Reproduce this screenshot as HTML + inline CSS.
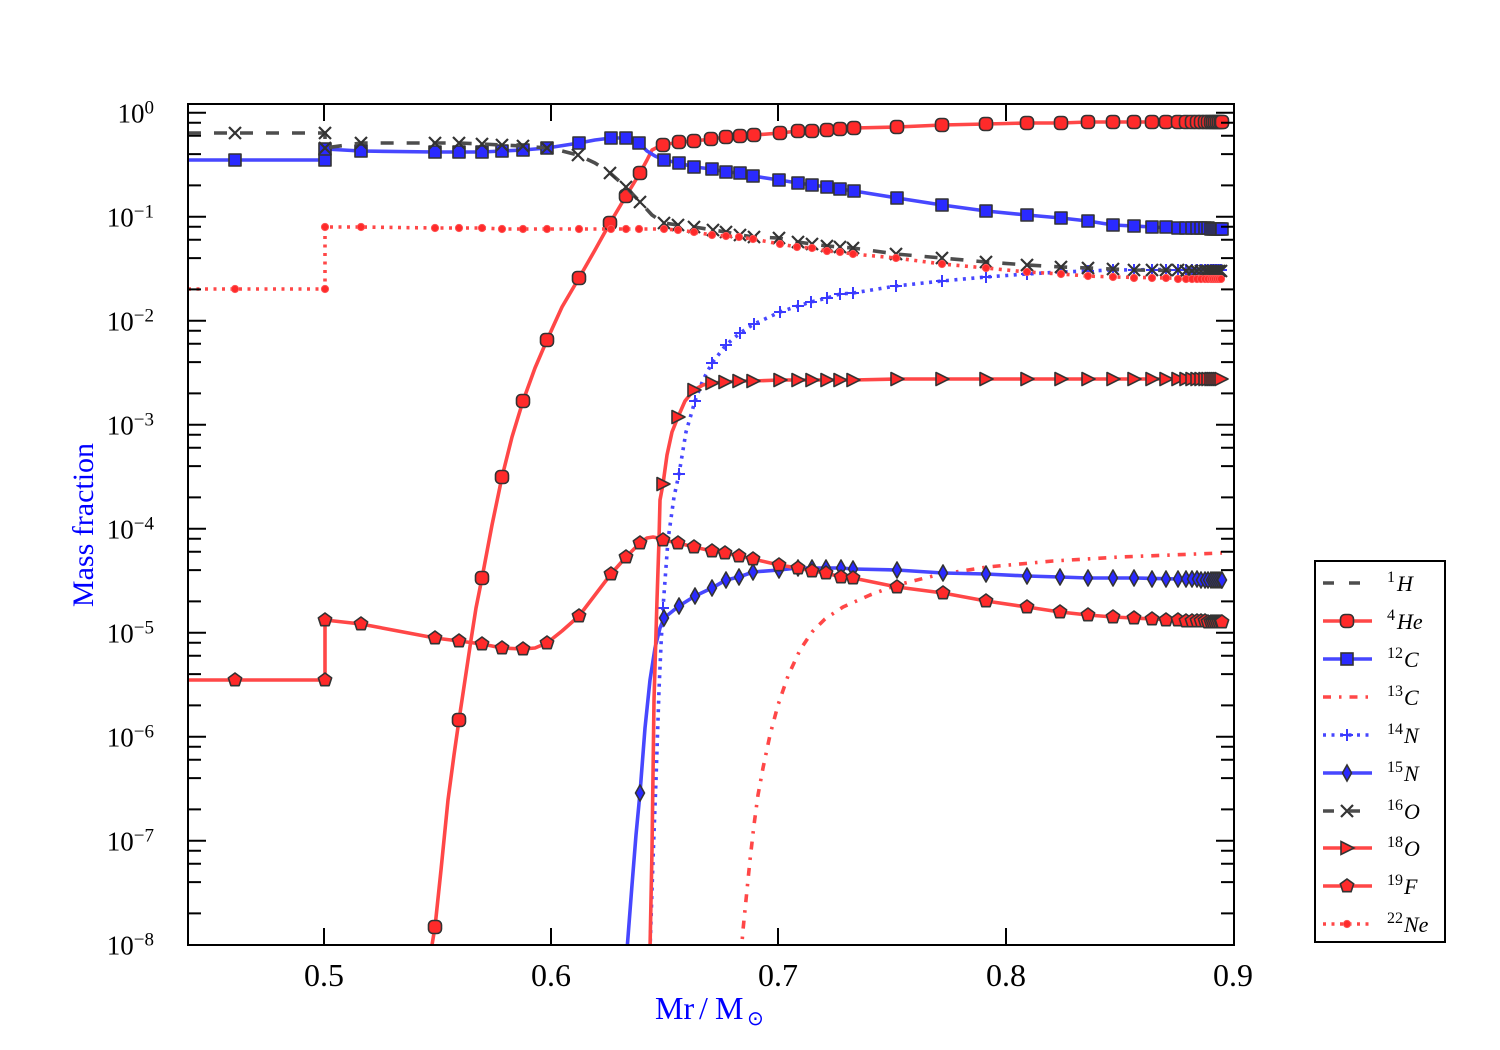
<!DOCTYPE html>
<html><head><meta charset="utf-8"><style>
html,body{margin:0;padding:0;background:#fff;}
svg{display:block;}
text{font-family:"Liberation Serif","DejaVu Serif",serif;}
</style></head><body>
<svg width="1500" height="1050" viewBox="0 0 1500 1050">
<rect x="0" y="0" width="1500" height="1050" fill="#fff"/>
<defs>
<clipPath id="cp"><rect x="188" y="104" width="1046" height="841"/></clipPath>
<rect id="mHe" x="-6.5" y="-6.5" width="13" height="13" rx="4.5" fill="#ff2a2a" stroke="#333" stroke-width="1.6"/>
<rect id="mC" x="-6" y="-6" width="12" height="12" fill="#2a2aff" stroke="#333" stroke-width="1.6"/>
<path id="mN14" d="M-6,0H6M0,-6V6" stroke="#3a3aff" stroke-width="2" fill="none"/>
<path id="mN15" d="M0,-8L4.5,0L0,8L-4.5,0Z" fill="#2a2aff" stroke="#333" stroke-width="1.6"/>
<path id="mO16" d="M-6,-6L6,6M-6,6L6,-6" stroke="#333" stroke-width="2.2" fill="none"/>
<path id="mO18" d="M-6,-6.5L7,0L-6,6.5Z" fill="#ff2a2a" stroke="#333" stroke-width="1.6"/>
<path id="mF" d="M0,-7L6.66,-2.16L4.11,5.66L-4.11,5.66L-6.66,-2.16Z" fill="#ff2a2a" stroke="#333" stroke-width="1.6"/>
<circle id="mNe" r="3.6" fill="#ff2a2a" stroke="#ff5555" stroke-width="1"/>
</defs>

<g clip-path="url(#cp)" fill="none" stroke-linejoin="round">
<!-- 4He -->
<polyline stroke="#ff4747" stroke-width="3.6" points="432,945 435,927 441,870 448,800 454,755 459,720 465,680 471,640 476,608 482,578 492,525 502,477 512,437 523,401 535,368 547,340 562,307 579,278 595,250 610,223 626,196 640,173 647,160 652,150 658,147 663,145 679,142 694,141 711,139 726,137 740,136 754,135 780,133 798,131 812,131 827,130 840,129 854,128 897,127 942,125 986,124 1027,123 1061,123 1088,122 1222,122"/>
<g>
<use href="#mHe" x="435" y="927"/><use href="#mHe" x="459" y="720"/><use href="#mHe" x="482" y="578"/><use href="#mHe" x="502" y="477"/><use href="#mHe" x="523" y="401"/><use href="#mHe" x="547" y="340"/><use href="#mHe" x="579" y="278"/><use href="#mHe" x="610" y="223"/><use href="#mHe" x="626" y="196"/><use href="#mHe" x="640" y="173"/><use href="#mHe" x="663" y="145"/><use href="#mHe" x="679" y="142"/><use href="#mHe" x="694" y="141"/><use href="#mHe" x="711" y="139"/><use href="#mHe" x="726" y="137"/><use href="#mHe" x="740" y="136"/><use href="#mHe" x="754" y="135"/><use href="#mHe" x="780" y="133"/><use href="#mHe" x="798" y="131"/><use href="#mHe" x="812" y="131"/><use href="#mHe" x="827" y="130"/><use href="#mHe" x="840" y="129"/><use href="#mHe" x="854" y="128"/><use href="#mHe" x="897" y="127"/><use href="#mHe" x="942" y="125"/><use href="#mHe" x="986" y="124"/><use href="#mHe" x="1027" y="123"/><use href="#mHe" x="1061" y="123"/><use href="#mHe" x="1088" y="122"/><use href="#mHe" x="1113" y="122"/><use href="#mHe" x="1134" y="122"/><use href="#mHe" x="1152" y="122"/><use href="#mHe" x="1166" y="122"/><use href="#mHe" x="1178" y="122"/><use href="#mHe" x="1186" y="122"/><use href="#mHe" x="1192" y="122"/><use href="#mHe" x="1197" y="122"/><use href="#mHe" x="1201" y="122"/><use href="#mHe" x="1205" y="122"/><use href="#mHe" x="1208" y="122"/><use href="#mHe" x="1211" y="122"/><use href="#mHe" x="1213" y="122"/><use href="#mHe" x="1215" y="122"/><use href="#mHe" x="1217" y="122"/><use href="#mHe" x="1219" y="122"/><use href="#mHe" x="1221" y="122"/><use href="#mHe" x="1222" y="122"/>
</g>

<!-- 12C -->
<polyline stroke="#4747ff" stroke-width="3.6" points="188,160 325,160 325,149 361,151 435,152 459,152 482,152 502,151 523,150 547,148 579,143 595,140 611,138 626,138 633,139 639,143 647,151 655,156 664,160 679,163 694,167 712,169 726,172 740,173 753,176 779,180 798,183 812,185 827,187 840,189 854,191 897,198 942,205 986,211 1027,215 1061,218 1088,221 1113,225 1134,226 1170,228 1222,229"/>
<g>
<use href="#mC" x="235" y="160"/><use href="#mC" x="325" y="160"/><use href="#mC" x="325" y="149"/><use href="#mC" x="361" y="151"/><use href="#mC" x="435" y="152"/><use href="#mC" x="459" y="152"/><use href="#mC" x="482" y="152"/><use href="#mC" x="502" y="151"/><use href="#mC" x="523" y="150"/><use href="#mC" x="547" y="148"/><use href="#mC" x="579" y="143"/><use href="#mC" x="611" y="138"/><use href="#mC" x="626" y="138"/><use href="#mC" x="639" y="143"/><use href="#mC" x="664" y="160"/><use href="#mC" x="679" y="163"/><use href="#mC" x="694" y="167"/><use href="#mC" x="712" y="169"/><use href="#mC" x="726" y="172"/><use href="#mC" x="740" y="173"/><use href="#mC" x="753" y="176"/><use href="#mC" x="779" y="180"/><use href="#mC" x="798" y="183"/><use href="#mC" x="812" y="185"/><use href="#mC" x="827" y="187"/><use href="#mC" x="840" y="189"/><use href="#mC" x="854" y="191"/><use href="#mC" x="897" y="198"/><use href="#mC" x="942" y="205"/><use href="#mC" x="986" y="211"/><use href="#mC" x="1027" y="215"/><use href="#mC" x="1061" y="218"/><use href="#mC" x="1088" y="221"/><use href="#mC" x="1113" y="225"/><use href="#mC" x="1134" y="226"/><use href="#mC" x="1152" y="227"/><use href="#mC" x="1166" y="227"/><use href="#mC" x="1178" y="228"/><use href="#mC" x="1186" y="228"/><use href="#mC" x="1192" y="228"/><use href="#mC" x="1197" y="228"/><use href="#mC" x="1201" y="228"/><use href="#mC" x="1205" y="228"/><use href="#mC" x="1208" y="228"/><use href="#mC" x="1211" y="229"/><use href="#mC" x="1213" y="229"/><use href="#mC" x="1215" y="229"/><use href="#mC" x="1217" y="229"/><use href="#mC" x="1219" y="229"/><use href="#mC" x="1221" y="229"/><use href="#mC" x="1222" y="229"/>
</g>

<!-- 13C -->
<polyline stroke="#ff4747" stroke-width="3.6" stroke-dasharray="8 8 2.5 8" points="741,955 743,930 746,900 750,860 754,825 758,795 763,768 770,735 778,705 788,676 800,650 812,632 825,619 843,607 870,595 897,585 937,575 987,567 1053,561 1120,557 1222,553"/>

<!-- 14N -->
<polyline stroke="#4747ff" stroke-width="3.6" stroke-dasharray="3 5.5" points="650,950 653,860 656,780 659,690 661,645 663,608 668,540 674,497 679,474 686,432 695,401 703,380 712,363 726,345 740,333 754,324 780,312 798,306 811,302 827,298 840,294 853,293 896,286 942,281 986,277 1027,274 1061,272 1088,271 1113,270 1222,269"/>
<g>
<use href="#mN14" x="663" y="608"/><use href="#mN14" x="679" y="474"/><use href="#mN14" x="695" y="401"/><use href="#mN14" x="712" y="363"/><use href="#mN14" x="726" y="345"/><use href="#mN14" x="740" y="333"/><use href="#mN14" x="754" y="324"/><use href="#mN14" x="780" y="312"/><use href="#mN14" x="798" y="306"/><use href="#mN14" x="811" y="302"/><use href="#mN14" x="827" y="298"/><use href="#mN14" x="840" y="294"/><use href="#mN14" x="853" y="293"/><use href="#mN14" x="896" y="286"/><use href="#mN14" x="942" y="281"/><use href="#mN14" x="986" y="277"/><use href="#mN14" x="1027" y="274"/><use href="#mN14" x="1061" y="272"/><use href="#mN14" x="1088" y="271"/><use href="#mN14" x="1113" y="270"/><use href="#mN14" x="1134" y="270"/><use href="#mN14" x="1152" y="270"/><use href="#mN14" x="1166" y="270"/><use href="#mN14" x="1178" y="270"/><use href="#mN14" x="1186" y="270"/><use href="#mN14" x="1192" y="270"/><use href="#mN14" x="1197" y="270"/><use href="#mN14" x="1201" y="270"/><use href="#mN14" x="1205" y="270"/><use href="#mN14" x="1208" y="270"/><use href="#mN14" x="1211" y="270"/><use href="#mN14" x="1213" y="270"/><use href="#mN14" x="1215" y="270"/><use href="#mN14" x="1217" y="270"/><use href="#mN14" x="1219" y="270"/><use href="#mN14" x="1221" y="270"/>
</g>

<!-- 15N -->
<polyline stroke="#4747ff" stroke-width="3.6" points="627,950 632,885 636,835 640,793 645,728 650,680 655,648 660,628 664,618 679,606 695,596 712,588 726,580 739,577 753,572 779,570 798,568 812,568 826,568 841,568 853,569 897,570 943,573 986,574 1027,576 1060,577 1088,578 1134,578 1222,580"/>
<g>
<use href="#mN15" x="640" y="793"/><use href="#mN15" x="664" y="618"/><use href="#mN15" x="679" y="606"/><use href="#mN15" x="695" y="596"/><use href="#mN15" x="712" y="588"/><use href="#mN15" x="726" y="580"/><use href="#mN15" x="739" y="577"/><use href="#mN15" x="753" y="572"/><use href="#mN15" x="779" y="570"/><use href="#mN15" x="798" y="568"/><use href="#mN15" x="812" y="568"/><use href="#mN15" x="826" y="568"/><use href="#mN15" x="841" y="568"/><use href="#mN15" x="853" y="569"/><use href="#mN15" x="897" y="570"/><use href="#mN15" x="943" y="573"/><use href="#mN15" x="986" y="574"/><use href="#mN15" x="1027" y="576"/><use href="#mN15" x="1060" y="577"/><use href="#mN15" x="1088" y="578"/><use href="#mN15" x="1113" y="578"/><use href="#mN15" x="1134" y="578"/><use href="#mN15" x="1152" y="579"/><use href="#mN15" x="1166" y="579"/><use href="#mN15" x="1178" y="579"/><use href="#mN15" x="1186" y="579"/><use href="#mN15" x="1192" y="579"/><use href="#mN15" x="1197" y="579"/><use href="#mN15" x="1201" y="580"/><use href="#mN15" x="1205" y="580"/><use href="#mN15" x="1208" y="580"/><use href="#mN15" x="1211" y="580"/><use href="#mN15" x="1213" y="580"/><use href="#mN15" x="1215" y="580"/><use href="#mN15" x="1217" y="580"/><use href="#mN15" x="1219" y="580"/><use href="#mN15" x="1221" y="580"/><use href="#mN15" x="1222" y="580"/>
</g>

<!-- 16O -->
<polyline stroke="#4d4d4d" stroke-width="3.6" stroke-dasharray="13 13" points="188,133 325,133 325,148 361,143 435,143 459,143 482,144 502,145 523,146 547,148 562,151 578,155 595,163 610,173 626,187 640,202 652,215 664,223 678,225 694,227 713,230 726,232 740,235 754,237 779,238 798,242 812,244 827,246 840,247 853,248 896,254 942,258 986,262 1027,265 1061,267 1088,268 1134,270 1222,271"/>
<g>
<use href="#mO16" x="235" y="133"/><use href="#mO16" x="325" y="133"/><use href="#mO16" x="325" y="148"/><use href="#mO16" x="361" y="143"/><use href="#mO16" x="435" y="143"/><use href="#mO16" x="459" y="143"/><use href="#mO16" x="482" y="144"/><use href="#mO16" x="502" y="145"/><use href="#mO16" x="523" y="146"/><use href="#mO16" x="547" y="148"/><use href="#mO16" x="578" y="155"/><use href="#mO16" x="610" y="173"/><use href="#mO16" x="626" y="187"/><use href="#mO16" x="640" y="202"/><use href="#mO16" x="664" y="223"/><use href="#mO16" x="678" y="225"/><use href="#mO16" x="694" y="227"/><use href="#mO16" x="713" y="230"/><use href="#mO16" x="726" y="232"/><use href="#mO16" x="740" y="235"/><use href="#mO16" x="754" y="237"/><use href="#mO16" x="779" y="238"/><use href="#mO16" x="798" y="242"/><use href="#mO16" x="812" y="244"/><use href="#mO16" x="827" y="246"/><use href="#mO16" x="840" y="247"/><use href="#mO16" x="853" y="248"/><use href="#mO16" x="896" y="254"/><use href="#mO16" x="942" y="258"/><use href="#mO16" x="986" y="262"/><use href="#mO16" x="1027" y="265"/><use href="#mO16" x="1061" y="267"/><use href="#mO16" x="1088" y="268"/><use href="#mO16" x="1113" y="269"/><use href="#mO16" x="1134" y="270"/><use href="#mO16" x="1152" y="270"/><use href="#mO16" x="1166" y="270"/><use href="#mO16" x="1178" y="270"/><use href="#mO16" x="1186" y="271"/><use href="#mO16" x="1192" y="271"/><use href="#mO16" x="1197" y="271"/><use href="#mO16" x="1201" y="271"/><use href="#mO16" x="1205" y="271"/><use href="#mO16" x="1208" y="271"/><use href="#mO16" x="1211" y="271"/><use href="#mO16" x="1213" y="271"/><use href="#mO16" x="1215" y="271"/><use href="#mO16" x="1217" y="271"/><use href="#mO16" x="1219" y="271"/><use href="#mO16" x="1221" y="271"/>
</g>

<!-- 18O -->
<polyline stroke="#ff4747" stroke-width="3.6" points="650,950 652,850 654,700 657,600 659,540 660,500 663,484 667,455 672,432 678,417 685,401 694,390 703,385 712,383 725,382 739,381 753,381 780,380 853,380 897,379 1222,379"/>
<g>
<use href="#mO18" x="663" y="484"/><use href="#mO18" x="678" y="417"/><use href="#mO18" x="694" y="390"/><use href="#mO18" x="712" y="383"/><use href="#mO18" x="725" y="382"/><use href="#mO18" x="739" y="381"/><use href="#mO18" x="753" y="381"/><use href="#mO18" x="780" y="380"/><use href="#mO18" x="798" y="380"/><use href="#mO18" x="812" y="380"/><use href="#mO18" x="827" y="380"/><use href="#mO18" x="840" y="380"/><use href="#mO18" x="853" y="380"/><use href="#mO18" x="897" y="379"/><use href="#mO18" x="942" y="379"/><use href="#mO18" x="986" y="379"/><use href="#mO18" x="1027" y="379"/><use href="#mO18" x="1061" y="379"/><use href="#mO18" x="1088" y="379"/><use href="#mO18" x="1113" y="379"/><use href="#mO18" x="1134" y="379"/><use href="#mO18" x="1152" y="379"/><use href="#mO18" x="1166" y="379"/><use href="#mO18" x="1178" y="379"/><use href="#mO18" x="1186" y="379"/><use href="#mO18" x="1192" y="379"/><use href="#mO18" x="1197" y="379"/><use href="#mO18" x="1201" y="379"/><use href="#mO18" x="1205" y="379"/><use href="#mO18" x="1208" y="379"/><use href="#mO18" x="1211" y="379"/><use href="#mO18" x="1213" y="379"/><use href="#mO18" x="1215" y="379"/><use href="#mO18" x="1217" y="379"/><use href="#mO18" x="1219" y="379"/><use href="#mO18" x="1221" y="379"/>
</g>

<!-- 19F -->
<polyline stroke="#ff4747" stroke-width="3.6" points="188,680 325,680 325,620 361,624 435,638 459,641 482,644 502,648 523,649 535,648 547,643 562,631 579,616 595,595 611,574 626,557 640,543 647,538 653,537 658,538 663,540 678,543 694,547 712,551 725,553 739,556 753,559 779,565 798,568 812,571 826,573 841,577 853,578 897,587 943,593 986,601 1027,607 1060,612 1088,615 1113,617 1134,618 1152,619 1222,622"/>
<g>
<use href="#mF" x="235" y="680"/><use href="#mF" x="325" y="680"/><use href="#mF" x="325" y="620"/><use href="#mF" x="361" y="624"/><use href="#mF" x="435" y="638"/><use href="#mF" x="459" y="641"/><use href="#mF" x="482" y="644"/><use href="#mF" x="502" y="648"/><use href="#mF" x="523" y="649"/><use href="#mF" x="547" y="643"/><use href="#mF" x="579" y="616"/><use href="#mF" x="611" y="574"/><use href="#mF" x="626" y="557"/><use href="#mF" x="640" y="543"/><use href="#mF" x="663" y="540"/><use href="#mF" x="678" y="543"/><use href="#mF" x="694" y="547"/><use href="#mF" x="712" y="551"/><use href="#mF" x="725" y="553"/><use href="#mF" x="739" y="556"/><use href="#mF" x="753" y="559"/><use href="#mF" x="779" y="565"/><use href="#mF" x="798" y="568"/><use href="#mF" x="812" y="571"/><use href="#mF" x="826" y="573"/><use href="#mF" x="841" y="577"/><use href="#mF" x="853" y="578"/><use href="#mF" x="897" y="587"/><use href="#mF" x="943" y="593"/><use href="#mF" x="986" y="601"/><use href="#mF" x="1027" y="607"/><use href="#mF" x="1060" y="612"/><use href="#mF" x="1088" y="615"/><use href="#mF" x="1113" y="617"/><use href="#mF" x="1134" y="618"/><use href="#mF" x="1152" y="619"/><use href="#mF" x="1166" y="620"/><use href="#mF" x="1178" y="620"/><use href="#mF" x="1186" y="621"/><use href="#mF" x="1192" y="621"/><use href="#mF" x="1197" y="621"/><use href="#mF" x="1201" y="621"/><use href="#mF" x="1205" y="621"/><use href="#mF" x="1208" y="622"/><use href="#mF" x="1211" y="622"/><use href="#mF" x="1213" y="622"/><use href="#mF" x="1215" y="622"/><use href="#mF" x="1217" y="622"/><use href="#mF" x="1219" y="622"/><use href="#mF" x="1221" y="622"/><use href="#mF" x="1222" y="622"/>
</g>

<!-- 22Ne -->
<polyline stroke="#ff4747" stroke-width="3.6" stroke-dasharray="3 5.5" points="188,289 325,289 325,227 361,227 435,228 459,228 482,228 502,229 523,229 547,229 579,229 611,229 626,229 639,229 664,229 678,230 694,232 712,235 726,236 739,237 753,239 780,244 797,247 812,248 827,251 840,252 853,254 896,258 942,264 986,268 1027,272 1061,274 1088,276 1113,277 1222,279"/>
<g>
<use href="#mNe" x="235" y="289"/><use href="#mNe" x="325" y="289"/><use href="#mNe" x="325" y="227"/><use href="#mNe" x="361" y="227"/><use href="#mNe" x="435" y="228"/><use href="#mNe" x="459" y="228"/><use href="#mNe" x="482" y="228"/><use href="#mNe" x="502" y="229"/><use href="#mNe" x="523" y="229"/><use href="#mNe" x="547" y="229"/><use href="#mNe" x="579" y="229"/><use href="#mNe" x="611" y="229"/><use href="#mNe" x="626" y="229"/><use href="#mNe" x="639" y="229"/><use href="#mNe" x="664" y="229"/><use href="#mNe" x="678" y="230"/><use href="#mNe" x="694" y="232"/><use href="#mNe" x="712" y="235"/><use href="#mNe" x="726" y="236"/><use href="#mNe" x="739" y="237"/><use href="#mNe" x="753" y="239"/><use href="#mNe" x="780" y="244"/><use href="#mNe" x="797" y="247"/><use href="#mNe" x="812" y="248"/><use href="#mNe" x="827" y="251"/><use href="#mNe" x="840" y="252"/><use href="#mNe" x="853" y="254"/><use href="#mNe" x="896" y="258"/><use href="#mNe" x="942" y="264"/><use href="#mNe" x="986" y="268"/><use href="#mNe" x="1027" y="272"/><use href="#mNe" x="1061" y="274"/><use href="#mNe" x="1088" y="276"/><use href="#mNe" x="1113" y="277"/><use href="#mNe" x="1134" y="278"/><use href="#mNe" x="1152" y="278"/><use href="#mNe" x="1166" y="278"/><use href="#mNe" x="1178" y="279"/><use href="#mNe" x="1186" y="279"/><use href="#mNe" x="1192" y="279"/><use href="#mNe" x="1197" y="279"/><use href="#mNe" x="1201" y="279"/><use href="#mNe" x="1205" y="279"/><use href="#mNe" x="1208" y="279"/><use href="#mNe" x="1211" y="279"/><use href="#mNe" x="1213" y="279"/><use href="#mNe" x="1215" y="279"/><use href="#mNe" x="1217" y="279"/><use href="#mNe" x="1219" y="279"/><use href="#mNe" x="1221" y="279"/>
</g>
</g>

<!-- axes frame and ticks -->
<rect x="188" y="104" width="1046" height="841" fill="none" stroke="#000" stroke-width="2"/>
<path stroke="#000" stroke-width="2" fill="none" d="
M188,112.7h18 M188,216.7h18 M188,320.7h18 M188,424.7h18 M188,528.7h18 M188,632.7h18 M188,736.7h18 M188,840.7h18
M1234,112.7h-18 M1234,216.7h-18 M1234,320.7h-18 M1234,424.7h-18 M1234,528.7h-18 M1234,632.7h-18 M1234,736.7h-18 M1234,840.7h-18
M188,122.8h13 M188,135.8h13 M188,154.1h13 M188,185.4h13
M188,226.8h13 M188,239.8h13 M188,258.1h13 M188,289.4h13
M188,330.8h13 M188,343.8h13 M188,362.1h13 M188,393.4h13
M188,434.8h13 M188,447.8h13 M188,466.1h13 M188,497.4h13
M188,538.8h13 M188,551.8h13 M188,570.1h13 M188,601.4h13
M188,642.8h13 M188,655.8h13 M188,674.1h13 M188,705.4h13
M188,746.8h13 M188,759.8h13 M188,778.1h13 M188,809.4h13
M188,850.8h13 M188,863.8h13 M188,882.1h13 M188,913.4h13
M1234,122.8h-13 M1234,135.8h-13 M1234,154.1h-13 M1234,185.4h-13
M1234,226.8h-13 M1234,239.8h-13 M1234,258.1h-13 M1234,289.4h-13
M1234,330.8h-13 M1234,343.8h-13 M1234,362.1h-13 M1234,393.4h-13
M1234,434.8h-13 M1234,447.8h-13 M1234,466.1h-13 M1234,497.4h-13
M1234,538.8h-13 M1234,551.8h-13 M1234,570.1h-13 M1234,601.4h-13
M1234,642.8h-13 M1234,655.8h-13 M1234,674.1h-13 M1234,705.4h-13
M1234,746.8h-13 M1234,759.8h-13 M1234,778.1h-13 M1234,809.4h-13
M1234,850.8h-13 M1234,863.8h-13 M1234,882.1h-13 M1234,913.4h-13
M324,945v-17 M551,945v-17 M778,945v-17 M1006,945v-17
M324,104v17 M551,104v17 M778,104v17 M1006,104v17
"/>

<!-- y tick labels -->
<g font-size="27" fill="#000" text-anchor="end">
<text x="154" y="122.7">10<tspan font-size="19" dy="-9">0</tspan></text>
<text x="154" y="226.7">10<tspan font-size="19" dy="-9">−1</tspan></text>
<text x="154" y="330.7">10<tspan font-size="19" dy="-9">−2</tspan></text>
<text x="154" y="434.7">10<tspan font-size="19" dy="-9">−3</tspan></text>
<text x="154" y="538.7">10<tspan font-size="19" dy="-9">−4</tspan></text>
<text x="154" y="642.7">10<tspan font-size="19" dy="-9">−5</tspan></text>
<text x="154" y="746.7">10<tspan font-size="19" dy="-9">−6</tspan></text>
<text x="154" y="850.7">10<tspan font-size="19" dy="-9">−7</tspan></text>
<text x="154" y="954.7">10<tspan font-size="19" dy="-9">−8</tspan></text>
</g>

<!-- x tick labels -->
<g font-size="32" fill="#000" text-anchor="middle">
<text x="324" y="986">0.5</text>
<text x="551" y="986">0.6</text>
<text x="778" y="986">0.7</text>
<text x="1006" y="986">0.8</text>
<text x="1233" y="986">0.9</text>
</g>

<!-- axis labels -->
<text transform="translate(93,525) rotate(-90)" font-size="30" fill="#0000ff" text-anchor="middle">Mass fraction</text>
<text y="1019" font-size="32" fill="#0000ff"><tspan x="655">Mr</tspan><tspan x="699">/</tspan><tspan x="715">M</tspan></text>
<text x="747" y="1025" font-size="20" fill="#0000ff" style="font-family:'DejaVu Sans',sans-serif">⊙</text>

<!-- legend -->
<rect x="1315" y="561" width="130" height="381" fill="#fff" stroke="#000" stroke-width="2"/>
<g fill="none" stroke-width="3.6">
<path d="M1323,583H1372" stroke="#4d4d4d" stroke-dasharray="11 15"/>
<path d="M1323,621H1372" stroke="#ff4747"/>
<path d="M1323,659H1372" stroke="#4747ff"/>
<path d="M1323,697H1372" stroke="#ff4747" stroke-dasharray="8 8 2.5 8"/>
<path d="M1323,735H1372" stroke="#4747ff" stroke-dasharray="3 5.5"/>
<path d="M1323,773H1372" stroke="#4747ff"/>
<path d="M1323,811H1372" stroke="#4d4d4d" stroke-dasharray="11 15"/>
<path d="M1323,848H1372" stroke="#ff4747"/>
<path d="M1323,886H1372" stroke="#ff4747"/>
<path d="M1323,924H1372" stroke="#ff4747" stroke-dasharray="3 5.5"/>
</g>
<use href="#mHe" x="1347" y="621"/>
<use href="#mC" x="1347" y="659"/>
<use href="#mN14" x="1347" y="735"/>
<use href="#mN15" x="1347" y="773"/>
<use href="#mO16" x="1347" y="811"/>
<use href="#mO18" x="1347" y="848"/>
<use href="#mF" x="1347" y="886"/>
<use href="#mNe" x="1347" y="924"/>
<g fill="#000" font-size="22" font-style="italic">
<text x="1387" y="591"><tspan font-size="16" font-style="normal" dy="-9">1</tspan><tspan dy="9" dx="2">H</tspan></text>
<text x="1387" y="629"><tspan font-size="16" font-style="normal" dy="-9">4</tspan><tspan dy="9" dx="2">He</tspan></text>
<text x="1387" y="667"><tspan font-size="16" font-style="normal" dy="-9">12</tspan><tspan dy="9" dx="1">C</tspan></text>
<text x="1387" y="705"><tspan font-size="16" font-style="normal" dy="-9">13</tspan><tspan dy="9" dx="1">C</tspan></text>
<text x="1387" y="743"><tspan font-size="16" font-style="normal" dy="-9">14</tspan><tspan dy="9" dx="1">N</tspan></text>
<text x="1387" y="781"><tspan font-size="16" font-style="normal" dy="-9">15</tspan><tspan dy="9" dx="1">N</tspan></text>
<text x="1387" y="819"><tspan font-size="16" font-style="normal" dy="-9">16</tspan><tspan dy="9" dx="1">O</tspan></text>
<text x="1387" y="856"><tspan font-size="16" font-style="normal" dy="-9">18</tspan><tspan dy="9" dx="1">O</tspan></text>
<text x="1387" y="894"><tspan font-size="16" font-style="normal" dy="-9">19</tspan><tspan dy="9" dx="1">F</tspan></text>
<text x="1387" y="932"><tspan font-size="16" font-style="normal" dy="-9">22</tspan><tspan dy="9" dx="1">Ne</tspan></text>
</g>
</svg>
</body></html>
